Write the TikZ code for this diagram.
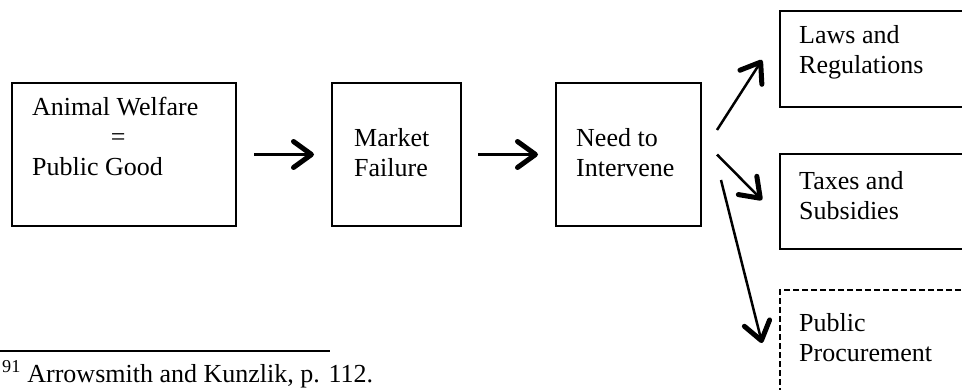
\documentclass[tikz,border=0pt]{standalone}
\usepackage{fontspec}
\setmainfont{Liberation Serif}
\usetikzlibrary{arrows.meta}

\newcommand{\lines}[1]{\begin{tabular}[t]{@{}l@{}}#1\end{tabular}}

\tikzset{
  box/.style={draw, line width=2pt, rectangle, minimum height=143, inner sep=0pt},
  side/.style={box, minimum width=220, minimum height=96},
  txt/.style={anchor=base west, inner sep=0pt, font=\fontsize{26}{30}\selectfont},
  flow/.style={line width=2.5pt, -{Straight Barb[length=18pt,width=26pt,line width=5pt,round]}}
}

\begin{document}
\begin{tikzpicture}[x=1pt, y=1pt]
    \useasboundingbox (0,0) rectangle (962,389);
    \clip (0,0) rectangle (962,389);

    % Chain of reasoning
    \node[box, minimum width=224] (welfare)   at (124,   234.5) {};
    \node[box, minimum width=129] (market)    at (396.5, 234.5) {};
    \node[box, minimum width=145] (intervene) at (628.5, 234.5) {};

    \node[txt] (welfaretxt) at ([shift={(21pt,-34pt)}]welfare.north west)
      {\lines{Animal Welfare\\\multicolumn{1}{@{}c@{}}{\hspace*{6pt}=}\\Public Good}};
    \node[txt] (markettxt) at ([shift={(23pt,-65pt)}]market.north west)
      {\lines{Market\\Failure}};
    \node[txt] (intervenetxt) at ([shift={(21pt,-65pt)}]intervene.north west)
      {\lines{Need to\\Intervene}};

    % Instruments
    \node[side] (laws)  at (890, 330)   {};
    \node[side, minimum height=95] (taxes) at (890, 187.5) {};
    \node[side, minimum height=110, dashed, dash pattern=on 6pt off 3pt] (procure) at (890, 44) {};

    \node[txt] (lawstxt)    at ([shift={(20pt,-34pt)}]laws.north west)    {\lines{Laws and\\Regulations}};
    \node[txt] (taxestxt)   at ([shift={(20pt,-36pt)}]taxes.north west)   {\lines{Taxes and\\Subsidies}};
    \node[txt] (procuretxt) at ([shift={(20pt,-42pt)}]procure.north west) {\lines{Public\\Procurement}};

    % Arrows
    \draw[flow, shorten <=17pt, shorten >=17pt] (welfare) -- (market);
    \draw[flow, shorten <=16pt, shorten >=17pt] (market) -- (intervene);

    \draw[flow] ([shift={(15pt,24.5pt)}]intervene.east) -- ([shift={(-17pt,-1pt)}]laws.west);
    \draw[flow] ([shift={(15pt,0pt)}]intervene.east)    -- ([shift={(-17pt,1.5pt)}]taxes.west);
    \draw[flow] ([shift={(19pt,-25.5pt)}]intervene.east) -- ([shift={(-17pt,2pt)}]procure.west);

    % Footnote
    \draw[line width=1.2pt] (0,38) -- (330,38);
    \node[txt] (note) at (2,7) {\textsuperscript{91} Arrowsmith and Kunzlik, p. 112.};
  \end{tikzpicture}
\end{document}
